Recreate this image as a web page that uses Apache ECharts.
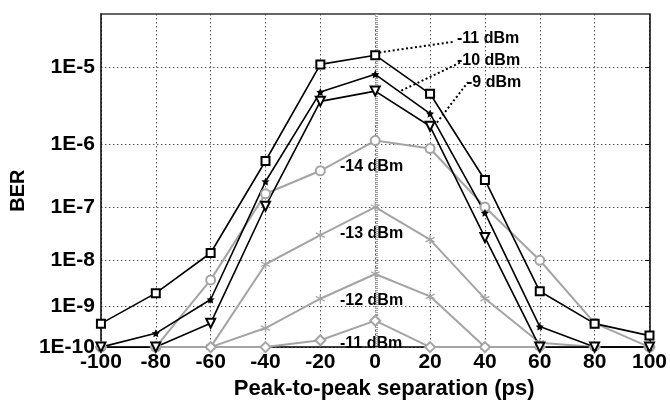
<!DOCTYPE html>
<html>
<head>
<meta charset="utf-8">
<script src="https://cdn.jsdelivr.net/npm/echarts@6/dist/echarts.min.js"></script>
<style>
html,body{margin:0;padding:0;background:#fff;}
#chart{width:670px;height:405px;}
</style>
</head>
<body>
<div id="chart"></div>
<script>
// ---- data (BER values) ----
var xValues = [-100, -80, -60, -40, -20, 0, 20, 40, 60, 80, 100];
var yTickBER = [1e-5, 1e-6, 1e-7, 1e-8, 1e-9, 1e-10];
var yBottomBER = 1e-10;
var yTopBER = 3.7e-5;

var black11 = [3.9e-10, 2.0e-9, 1.4e-8, 5.6e-7, 1.07e-5, 1.36e-5, 4.75e-6, 2.83e-7, 2.2e-9, 3.9e-10, 1.97e-10];
var black10 = [1e-10, 2.25e-10, 1.44e-9, 2.67e-7, 4.99e-6, 8.2e-6, 2.63e-6, 7.9e-8, 3.3e-10, 1e-10, 1e-10];
var black9  = [1e-10, 1e-10, 4.0e-10, 1.03e-7, 3.81e-6, 5.13e-6, 1.78e-6, 2.8e-8, 1e-10, 1e-10, 1e-10];
var gray14  = [1e-10, 1e-10, 3.9e-9, 1.68e-7, 3.96e-7, 1.12e-6, 8.6e-7, 1.0e-7, 1.0e-8, 4.0e-10, 1e-10];
var gray13  = [1e-10, 1e-10, 1e-10, 8.3e-9, 3.1e-8, 1.0e-7, 2.55e-8, 1.51e-9, 1.3e-10, 1e-10, 1e-10];
var gray12  = [1e-10, 1e-10, 1e-10, 3.04e-10, 1.5e-9, 5.2e-9, 1.7e-9, 1e-10, 1e-10, 1e-10, 1e-10];
var gray11  = [1e-10, 1e-10, 1e-10, 1e-10, 1.5e-10, 4.6e-10, 1e-10, 1e-10, 1e-10, 1e-10, 1e-10];

var seriesNames = ['-11 dBm', '-10 dBm', '-9 dBm', '-14 dBm', '-13 dBm', '-12 dBm', '-11 dBm '];

// ---- BER scale transform: y = -log10(-log10(BER) - 1) ----
function tf(b) { return -Math.log10(-Math.log10(b) - 1); }
function pairs(arr) { return xValues.map(function (x, i) { return [x, tf(arr[i])]; }); }

var yMin = tf(yBottomBER);
var yMax = tf(yTopBER);
var yTicks = yTickBER.map(tf);

function berLabel(v) {
  var n = Math.round(Math.pow(10, -v) + 1);
  return '1E-' + n;
}

var GRAY = '#a4a4a4';
var asterisk = 'path://M0,-5L0,5M-4.33,-2.5L4.33,2.5M-4.33,2.5L4.33,-2.5';
var star = 'path://M0,-10L2.9,-4L9.5,-3.1L4.7,1.5L5.9,8.1L0,5L-5.9,8.1L-4.7,1.5L-9.5,-3.1L-2.9,-4Z';

function leader(x1, b1, x2, b2) {
  return {
    silent: true, symbol: 'none',
    lineStyle: { color: '#000', type: [2, 2.5], width: 2 },
    label: { show: false },
    data: [[{ coord: [x1, tf(b1)] }, { coord: [x2, tf(b2)] }]]
  };
}

function mkSeries(name, arr, color, width, symbol, size, extra) {
  var s = {
    name: name, type: 'line', data: pairs(arr), clip: false,
    symbol: symbol, symbolSize: size, showAllSymbol: true,
    lineStyle: { color: color, width: width },
    itemStyle: { color: color },
    emphasis: { disabled: true },
    animation: false
  };
  for (var k in extra) s[k] = extra[k];
  return s;
}

var chart = echarts.init(document.getElementById('chart'), null, { renderer: 'canvas' });
var FONT = 'Liberation Sans, Arial, sans-serif';

var option = {
  backgroundColor: '#fff',
  animation: false,
  grid: { left: 96, right: 19, top: 14, bottom: 52 },
  xAxis: [{
    type: 'value', min: -100, max: 100, interval: 20,
    name: 'Peak-to-peak separation (ps)', nameLocation: 'middle', nameGap: 27,
    nameTextStyle: { fontFamily: FONT, fontWeight: 'bold', fontSize: 22, color: '#000', padding: [0, 0, 0, 18] },
    axisLine: { show: true, onZero: false, lineStyle: { color: '#000', width: 1.5 } },
    axisTick: { show: false },
    axisLabel: { fontFamily: FONT, fontWeight: 'bold', fontSize: 21, color: '#000', margin: 5 },
    splitLine: { show: true, lineStyle: { color: '#555', type: [1.5, 2.5], width: 1 } }
  }, {
    type: 'value', position: 'top', min: -100, max: 100, interval: 20,
    axisLine: { show: true, onZero: false, lineStyle: { color: '#333', width: 1.5 } },
    axisTick: { show: false }, axisLabel: { show: false }, splitLine: { show: false }
  }],
  yAxis: [{
    type: 'value', min: yMin, max: yMax, position: 'left',
    name: 'BER', nameLocation: 'middle', nameGap: 66, nameRotate: 90,
    nameTextStyle: { fontFamily: FONT, fontWeight: 'bold', fontSize: 20, color: '#000', padding: [0, 20, 0, 0] },
    axisLine: { show: true, onZero: false, lineStyle: { color: '#000', width: 1.5 } },
    axisTick: { show: false, customValues: yTicks },
    axisLabel: { customValues: yTicks, formatter: berLabel, fontFamily: FONT, fontWeight: 'bold', fontSize: 21, color: '#000', margin: 6 },
    splitLine: { show: true, lineStyle: { color: '#555', type: [1.5, 2.5], width: 1 } }
  }, {
    type: 'value', min: 0, max: 340, interval: 2, position: 'left',
    axisLine: { show: false }, axisLabel: { show: false }, splitLine: { show: false },
    axisTick: { show: true, inside: true, length: 3, lineStyle: { color: '#999', width: 1 } }
  }, {
    type: 'value', min: yMin, max: yMax, position: 'right',
    axisLine: { show: true, onZero: false, lineStyle: { color: '#000', width: 1.5 } },
    axisTick: { show: true, inside: true, length: 4, customValues: yTicks, lineStyle: { color: '#000' } },
    axisLabel: { show: false, customValues: yTicks }, splitLine: { show: false }
  }],
  series: [
    mkSeries(seriesNames[3], gray14, GRAY, 2, 'emptyCircle', 9, {}),
    mkSeries(seriesNames[4], gray13, GRAY, 2, asterisk, 9, { itemStyle: { color: GRAY, borderColor: GRAY, borderWidth: 1.3 } }),
    mkSeries(seriesNames[5], gray12, GRAY, 2, asterisk, 9, { itemStyle: { color: GRAY, borderColor: GRAY, borderWidth: 1.3 } }),
    mkSeries(seriesNames[6], gray11, GRAY, 2, 'emptyDiamond', 10, {}),
    mkSeries(seriesNames[0], black11, '#000', 1.6, 'emptyRect', 8, { markLine: leader(1.5, 1.46e-5, 28.6, 1.91e-5) }),
    mkSeries(seriesNames[1], black10, '#000', 1.6, star, 8, { markLine: leader(9.5, 5.2e-6, 31.2, 1.13e-5) }),
    mkSeries(seriesNames[2], black9, '#000', 1.6, 'emptyTriangle', 9, { symbolRotate: 180, markLine: leader(22.5, 2.0e-6, 33.8, 6.6e-6) })
  ],
  graphic: [
    { type: 'text', left: 457, top: 31, style: { text: '-11 dBm', font: 'bold 16px ' + FONT, fill: '#000' } },
    { type: 'text', left: 457, top: 53, style: { text: '-10 dBm', font: 'bold 16px ' + FONT, fill: '#000' } },
    { type: 'text', left: 467, top: 75, style: { text: '-9 dBm', font: 'bold 16px ' + FONT, fill: '#000' } },
    { type: 'text', left: 340, top: 159, style: { text: '-14 dBm', font: 'bold 16px ' + FONT, fill: '#000' } },
    { type: 'text', left: 340, top: 226, style: { text: '-13 dBm', font: 'bold 16px ' + FONT, fill: '#000' } },
    { type: 'text', left: 340, top: 293, style: { text: '-12 dBm', font: 'bold 16px ' + FONT, fill: '#000' } },
    { type: 'text', left: 340, top: 336, style: { text: '-11 dBm', font: 'bold 16px ' + FONT, fill: '#000' } }
  ]
};
chart.setOption(option);
</script>
</body>
</html>
